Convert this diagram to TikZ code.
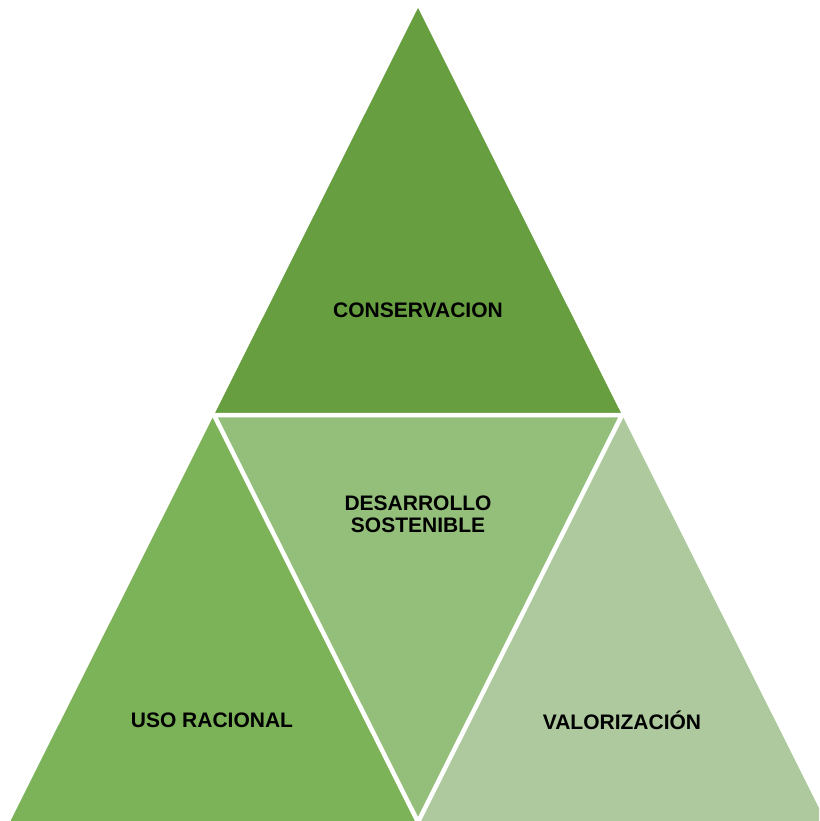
\documentclass[tikz,border=0pt]{standalone}
\usepackage{fontspec}
\setmainfont{Liberation Sans}
\usetikzlibrary{positioning,calc}

\definecolor{conservgreen}{RGB}{102,158,64}
\definecolor{usogreen}{RGB}{124,179,88}
\definecolor{desarrollogreen}{RGB}{147,191,123}
\definecolor{valorgreen}{RGB}{173,201,157}

\tikzset{
  gap/.style={draw=white,line width=4.5pt,line join=miter},
  lbl/.style={font=\fontsize{21}{22}\selectfont\bfseries,align=center,text=black,inner sep=0pt}
}

\begin{document}
\begin{tikzpicture}[x=1pt,y=-1pt]
\useasboundingbox (0,0) rectangle (819,821);
\clip (0,0) rectangle (819,821);

\coordinate (apex) at (418,8);
\coordinate (baseL) at (10,822);
\coordinate (baseR) at (826,822);
\coordinate (midL) at ($(apex)!0.5!(baseL)$);
\coordinate (midR) at ($(apex)!0.5!(baseR)$);
\coordinate (midB) at ($(baseL)!0.5!(baseR)$);

% the four triangles
\fill[conservgreen] (apex) -- (midL) -- (midR) -- cycle;
\fill[usogreen] (midL) -- (baseL) -- (midB) -- cycle;
\fill[valorgreen] (midR) -- (midB) -- (baseR) -- cycle;
\fill[desarrollogreen] (midL) -- (midR) -- (midB) -- cycle;
\draw[gap] (midL) -- (midR) -- (midB) -- cycle;

% labels
\node[lbl] (conservacion) at (418,310) {CONSERVACION};
\node[lbl] (desarrollo) at (418,514) {DESARROLLO\\SOSTENIBLE};
\node[lbl] (uso) at (212,720) {USO RACIONAL};
\node[lbl] (valorizacion) at (622,720) {VALORIZACIÓN};

\end{tikzpicture}
\end{document}
